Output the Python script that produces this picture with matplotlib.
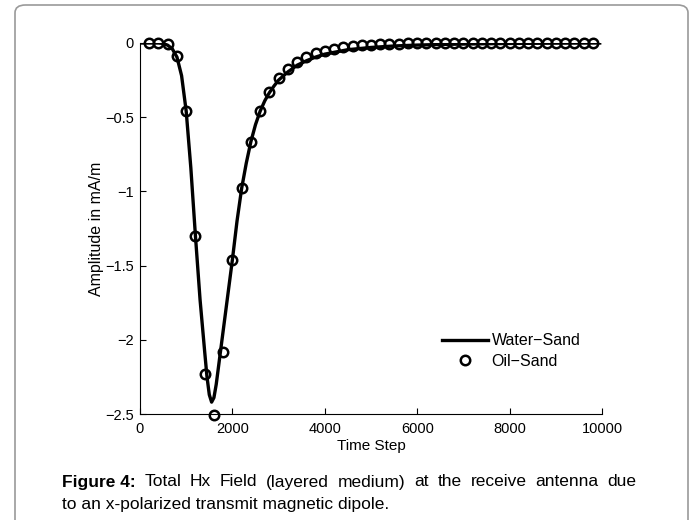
import matplotlib.pyplot as plt
from matplotlib.patches import FancyBboxPatch

plt.rcParams['font.family'] = ['Liberation Sans', 'DejaVu Sans']

# Water-Sand (solid line)
water_t = [0, 200, 400, 500, 600, 700, 800, 900, 1000, 1100, 1200, 1300, 1400,
           1450, 1500, 1550, 1600, 1650, 1700, 1800, 1900, 2000, 2100, 2200,
           2300, 2400, 2500, 2600, 2700, 2800, 2900, 3000, 3200, 3400, 3600,
           3800, 4000, 4500, 5000, 5500, 6000, 6500, 7000, 8000, 9000, 9950]
water_v = [0, 0, 0, -0.003, -0.015, -0.04, -0.095, -0.22, -0.46, -0.84, -1.30,
           -1.73, -2.08, -2.25, -2.37, -2.42, -2.39, -2.30, -2.18, -1.94, -1.70,
           -1.46, -1.20, -0.98, -0.81, -0.665, -0.55, -0.46, -0.39, -0.335,
           -0.29, -0.25, -0.195, -0.15, -0.12, -0.095, -0.075, -0.045, -0.03,
           -0.02, -0.014, -0.01, -0.007, -0.003, -0.001, 0]

# Oil-Sand (circles), every 200 steps
oil_t = list(range(200, 10000, 200))
oil_v = [0, 0, -0.01, -0.088, -0.458, -1.30, -2.23, -2.51, -2.08, -1.46, -0.98,
         -0.665, -0.46, -0.33, -0.238, -0.177, -0.13, -0.096, -0.07, -0.052,
         -0.038, -0.029, -0.022, -0.016, -0.011, -0.008, -0.006, -0.004,
         -0.003, -0.002, -0.001, -0.001, 0, 0, 0, 0, 0, 0, 0, 0, 0, 0, 0, 0,
         0, 0, 0, 0, 0]

caption_words = ['Total', 'Hx', 'Field', '(layered', 'medium)', 'at', 'the',
                 'receive', 'antenna', 'due']
caption_line2 = 'to an x-polarized transmit magnetic dipole.'

W, H = 696, 520
fig = plt.figure(figsize=(W / 100, H / 100), dpi=100)
fig.patches.append(FancyBboxPatch((15 / W, -0.03), 673 / W, 1 - 5 / H + 0.03,
                                  boxstyle='round,pad=0,rounding_size=0.015',
                                  transform=fig.transFigure, fill=False,
                                  edgecolor='#9a9a9a', lw=1.2))

ax = fig.add_axes([140 / W, 1 - 414 / H, 462 / W, 371 / H])
ax.plot(water_t, water_v, color='black', lw=2.4, label='Water\u2212Sand')
ax.plot(oil_t, oil_v, 'o', color='black', mfc='none', mew=1.8, ms=6.8,
        label='Oil\u2212Sand', clip_on=False, zorder=3)

ax.set_xlim(0, 10000)
ax.set_ylim(-2.5, 0)
ax.set_xticks([0, 2000, 4000, 6000, 8000, 10000])
ax.set_yticks([-2.5, -2, -1.5, -1, -0.5, 0])
ax.set_yticklabels(['\u22122.5', '\u22122', '\u22121.5', '\u22121', '\u22120.5', '0'])
ax.spines['top'].set_visible(False)
ax.spines['right'].set_visible(False)
ax.tick_params(direction='in', length=4, labelsize=10.5)
ax.tick_params(axis='y', pad=4.5)
ax.tick_params(axis='x', pad=6)
ax.set_xlabel('Time Step', fontsize=11, labelpad=2)
ax.set_ylabel('Amplitude in mA/m', fontsize=11.5, labelpad=0.5)

ax.legend(loc='center left', bbox_to_anchor=(442 / W, 1 - 351 / H),
          bbox_transform=fig.transFigure, frameon=False, fontsize=11.5,
          handlelength=2.9, handletextpad=0.2, labelspacing=0.35, borderaxespad=0,
          borderpad=0)

# caption, first line justified between x=62 and x=636
fs = 12.5
y1, y2 = 1 - 482 / H, 1 - 504 / H
bold = fig.text(62 / W, y1, 'Figure 4:', fontsize=fs, fontweight='bold', va='center')
renderer = fig.canvas.get_renderer()
x0 = bold.get_window_extent(renderer).x1
words = [fig.text(0, y1, w, fontsize=fs, va='center') for w in caption_words]
widths = [t.get_window_extent(renderer).width for t in words]
gap = (636 - x0 - sum(widths)) / len(words)
x = x0 + gap
for t, w in zip(words, widths):
    t.set_x(x / W)
    x += w + gap
fig.text(62 / W, y2, caption_line2, fontsize=fs, va='center')

fig.savefig('out.png', dpi=100)
